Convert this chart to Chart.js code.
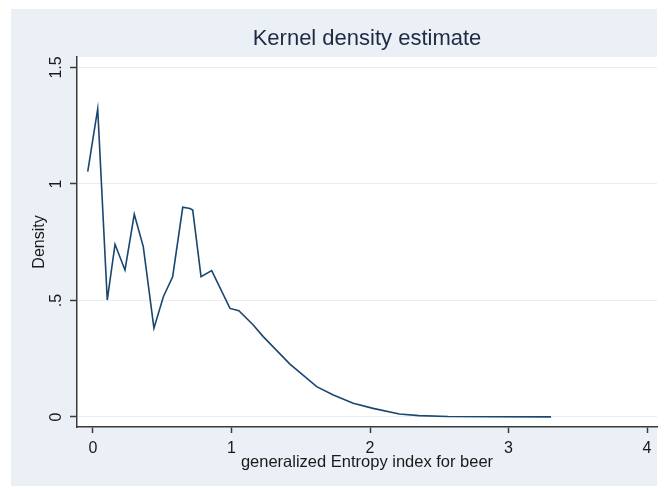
<!DOCTYPE html>
<html><head><meta charset="utf-8">
<script src="https://cdn.jsdelivr.net/npm/chart.js@4/dist/chart.umd.min.js"></script>
<style>html,body{margin:0;padding:0;background:#fff;}#wrap{width:662px;height:486px;position:relative}</style>
</head><body><div id="wrap"><canvas id="c" width="662" height="486"></canvas></div>
<script>
const titleText = 'Kernel density estimate';
const xTitle = 'generalized Entropy index for beer';
const yTitle = 'Density';
const gridX = [-0.038, 0.034, 0.103, 0.159, 0.231, 0.298, 0.363, 0.440, 0.508, 0.575, 0.648, 0.700, 0.720, 0.780, 0.857, 0.989, 1.053, 1.157, 1.229, 1.422, 1.495, 1.615, 1.735, 1.879, 2.022, 2.212, 2.354, 2.563, 2.900, 3.307];
const density = [1.053, 1.322, 0.502, 0.741, 0.631, 0.870, 0.731, 0.381, 0.516, 0.602, 0.900, 0.895, 0.888, 0.602, 0.628, 0.466, 0.456, 0.395, 0.345, 0.227, 0.190, 0.130, 0.094, 0.059, 0.037, 0.013, 0.006, 0.002, 0.001, 0.0003];
const xTicks = [0, 1, 2, 3, 4];
const xTickLabels = ['0', '1', '2', '3', '4'];
const yTicks = [0, 0.5, 1, 1.5];
const yTickLabels = ['0', '.5', '1', '1.5'];

const FONT = '"Liberation Sans", Arial, sans-serif';
const BG = '#ebf0f6';
const TEXT = '#1a1a1a';

const bgPlugin = {
  id: 'bg',
  beforeDraw(chart) {
    const {ctx, chartArea: a} = chart;
    ctx.save();
    ctx.fillStyle = '#ffffff';
    ctx.fillRect(0, 0, chart.width, chart.height);
    ctx.fillStyle = BG;
    ctx.fillRect(11, 9, 646, chart.height - 9);
    ctx.fillStyle = '#ffffff';
    ctx.fillRect(a.left, a.top, a.right - a.left, a.bottom - a.top);
    ctx.restore();
  }
};
const yLabelPlugin = {
  id: 'ylabels',
  afterDraw(chart) {
    const ctx = chart.ctx, s = chart.scales.y;
    ctx.save();
    ctx.font = '16px ' + FONT;
    ctx.fillStyle = TEXT;
    ctx.textAlign = 'center';
    ctx.textBaseline = 'middle';
    yTicks.forEach((v, i) => {
      const py = s.getPixelForValue(v);
      ctx.save();
      ctx.translate(56.5, py);
      ctx.rotate(-Math.PI / 2);
      ctx.fillText(yTickLabels[i], 0, 0);
      ctx.restore();
    });
    ctx.restore();
  }
};

new Chart(document.getElementById('c'), {
  type: 'line',
  data: {
    datasets: [{
      data: gridX.map((x, i) => ({x: x, y: density[i]})),
      borderColor: '#1a476f',
      borderWidth: 1.6,
      pointRadius: 0,
      tension: 0,
      fill: false
    }]
  },
  options: {
    responsive: false,
    animation: false,
    devicePixelRatio: 1,
    layout: {padding: {left: 11, right: 5, top: 0, bottom: 0}},
    plugins: {
      legend: {display: false},
      tooltip: {enabled: false},
      title: {
        display: true,
        text: titleText,
        fullSize: false,
        color: '#1f2a44',
        font: {family: FONT, size: 22, weight: 'normal'},
        padding: {top: 26.2, bottom: 4.4}
      }
    },
    scales: {
      x: {
        type: 'linear',
        min: -0.1155,
        max: 4.072,
        afterBuildTicks: s => { s.ticks = xTicks.map(v => ({value: v})); },
        afterFit: s => { s.height = 59; },
        ticks: {
          autoSkip: false, maxRotation: 0, padding: 5.7, color: TEXT,
          font: {family: FONT, size: 16},
          callback: (v) => xTickLabels[xTicks.indexOf(v)]
        },
        grid: {drawOnChartArea: false, drawTicks: true, tickLength: 6, tickColor: '#3a3a3a', tickWidth: 1.5},
        border: {display: true, color: '#3a3a3a', width: 1.5},
        title: {display: true, text: xTitle, color: TEXT, font: {family: FONT, size: 16.5}, padding: {top: 0, bottom: 13.8}}
      },
      y: {
        type: 'linear',
        min: -0.043,
        max: 1.545,
        afterBuildTicks: s => { s.ticks = yTicks.map(v => ({value: v})); },
        afterFit: s => { s.width = 66; },
        ticks: {display: false},
        grid: {color: '#e6edf4', lineWidth: 1, drawTicks: true, tickLength: 7, tickColor: '#3a3a3a', tickWidth: 1.5},
        border: {display: true, color: '#3a3a3a', width: 1.5},
        title: {display: true, text: yTitle, color: TEXT, font: {family: FONT, size: 16}, padding: {top: 18.7, bottom: 0}}
      }
    }
  },
  plugins: [bgPlugin, yLabelPlugin]
});
</script>
</body></html>
